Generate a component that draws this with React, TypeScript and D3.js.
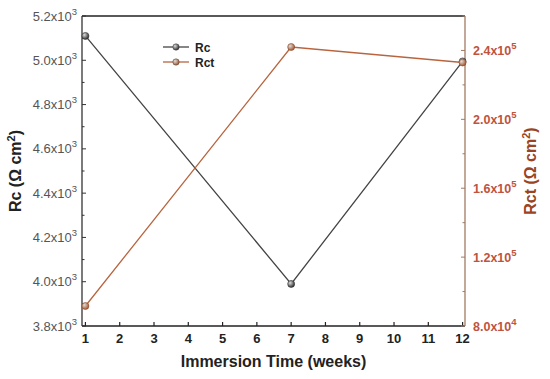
import React, { useRef, useEffect } from 'react';
import * as d3 from 'd3';

const weeks = [1, 7, 12];
const rcValues = [5110, 3990, 4995];
const rctValues = [91600, 242000, 233000];
const leftTicks = [3.8, 4.0, 4.2, 4.4, 4.6, 4.8, 5.0, 5.2];
const rightTicks = [8.0, 12, 16, 20, 24];
const xTicks = d3.range(1, 13);

const App: React.FC = () => {
  const svgRef = useRef<SVGSVGElement | null>(null);
  const width = 550;
  const height = 379;

  useEffect(() => {
    if (!svgRef.current) return;
    const svg = d3.select(svgRef.current);
    svg.selectAll('*').remove();

    const margin = { top: 16, right: 85, bottom: 53, left: 82 };
    const innerW = width - margin.left - margin.right;
    const innerH = height - margin.top - margin.bottom;

    const colors = {
      rc: '#444444',
      rct: '#b8643e',
      rightAxis: '#a27a62',
      rightText: '#c0533e',
      rightTitle: '#9a4423',
      leftText: '#555',
    };
    const font = 'Arial, "Liberation Sans", sans-serif';

    const x = d3.scaleLinear().domain([0.9, 12.07]).range([0, innerW]);
    const yL = d3.scaleLinear().domain([3800, 5200]).range([innerH, 0]);
    const yR = d3.scaleLinear().domain([80000, 260000]).range([innerH, 0]);

    const defs = svg.append('defs');
    const mkGrad = (id: string, c: string) => {
      const gr = defs.append('radialGradient').attr('id', id)
        .attr('cx', '35%').attr('cy', '35%').attr('r', '65%');
      gr.append('stop').attr('offset', '0%').attr('stop-color', '#ddd');
      gr.append('stop').attr('offset', '100%').attr('stop-color', c);
    };
    mkGrad('gRc', '#333');
    mkGrad('gRct', '#a85a30');

    const g = svg.append('g').attr('transform', `translate(${margin.left},${margin.top})`);

    // frame: top border
    g.append('line').attr('x1', 0).attr('x2', innerW).attr('y1', 0).attr('y2', 0)
      .attr('stroke', '#222').attr('stroke-width', 1.3);

    // bottom axis
    g.append('line').attr('x1', 0).attr('x2', innerW).attr('y1', innerH).attr('y2', innerH)
      .attr('stroke', '#222').attr('stroke-width', 1.3);
    xTicks.forEach(t => {
      g.append('line').attr('x1', x(t)).attr('x2', x(t)).attr('y1', innerH).attr('y2', innerH - 4)
        .attr('stroke', '#222').attr('stroke-width', 1.2);
      g.append('text').attr('x', x(t)).attr('y', innerH + 17).attr('text-anchor', 'middle')
        .attr('font-family', font).attr('font-weight', 'bold').attr('font-size', 13)
        .attr('fill', '#222').text(String(t));
    });

    // left axis
    g.append('line').attr('x1', 0).attr('x2', 0).attr('y1', 0).attr('y2', innerH)
      .attr('stroke', '#333').attr('stroke-width', 1.3);
    d3.range(3800, 5201, 100).forEach(v => {
      const major = Math.round(v) % 200 === 0;
      g.append('line').attr('x1', 0).attr('x2', major ? 4 : 2.5).attr('y1', yL(v)).attr('y2', yL(v))
        .attr('stroke', '#333').attr('stroke-width', 1);
    });
    leftTicks.forEach(t => {
      const tx = g.append('text').attr('x', -5).attr('y', yL(t * 1000) + 4.5).attr('text-anchor', 'end')
        .attr('font-family', font).attr('font-size', 13).attr('fill', colors.leftText);
      tx.append('tspan').text(`${t.toFixed(1)}x10`);
      tx.append('tspan').attr('dy', -6).attr('font-size', 9.5).text('3');
    });

    // right axis
    g.append('line').attr('x1', innerW).attr('x2', innerW).attr('y1', 0).attr('y2', innerH)
      .attr('stroke', colors.rightAxis).attr('stroke-width', 1.3);
    d3.range(80000, 260001, 20000).forEach(v => {
      const major = Math.round(v / 20000) % 2 === 0;
      g.append('line').attr('x1', innerW).attr('x2', innerW - (major ? 4 : 2.5))
        .attr('y1', yR(v)).attr('y2', yR(v))
        .attr('stroke', colors.rightAxis).attr('stroke-width', 1);
    });
    rightTicks.forEach(t => {
      const val = t * 10000;
      const mant = t >= 10 ? (t / 10).toFixed(1) : t.toFixed(1);
      const exp = t >= 10 ? '5' : '4';
      const tx = g.append('text').attr('x', innerW + 8).attr('y', yR(val) + 4.5)
        .attr('font-family', font).attr('font-weight', 'bold').attr('font-size', 12.5)
        .attr('fill', colors.rightText);
      tx.append('tspan').text(`${mant}x10`);
      tx.append('tspan').attr('dy', -6).attr('font-size', 9.5).text(exp);
    });

    // axis titles
    const lt = svg.append('text')
      .attr('transform', `translate(21,${margin.top + innerH / 2}) rotate(-90)`)
      .attr('text-anchor', 'middle').attr('font-family', font).attr('font-weight', 'bold')
      .attr('font-size', 16).attr('fill', '#222');
    lt.append('tspan').text('Rc (Ω cm');
    lt.append('tspan').attr('dy', -6).attr('font-size', 11).text('2');
    lt.append('tspan').attr('dy', 6).text(')');

    const rt = svg.append('text')
      .attr('transform', `translate(536,${margin.top + innerH / 2}) rotate(-90)`)
      .attr('text-anchor', 'middle').attr('font-family', font).attr('font-weight', 'bold')
      .attr('font-size', 16).attr('fill', colors.rightTitle);
    rt.append('tspan').text('Rct (Ω cm');
    rt.append('tspan').attr('dy', -6).attr('font-size', 11).text('2');
    rt.append('tspan').attr('dy', 6).text(')');

    svg.append('text').attr('x', margin.left + innerW / 2).attr('y', 367)
      .attr('text-anchor', 'middle').attr('font-family', font).attr('font-weight', 'bold')
      .attr('font-size', 16).attr('fill', '#222').text('Immersion Time (weeks)');

    // series
    const lineL = d3.line<number>().x((_, i) => x(weeks[i])).y(d => yL(d));
    const lineR = d3.line<number>().x((_, i) => x(weeks[i])).y(d => yR(d));

    g.append('path').datum(rcValues).attr('d', lineL).attr('fill', 'none')
      .attr('stroke', colors.rc).attr('stroke-width', 1.3);
    g.append('path').datum(rctValues).attr('d', lineR).attr('fill', 'none')
      .attr('stroke', colors.rct).attr('stroke-width', 1.3);

    rcValues.forEach((v, i) => {
      g.append('circle').attr('cx', x(weeks[i])).attr('cy', yL(v)).attr('r', 3.5)
        .attr('fill', 'url(#gRc)').attr('stroke', '#333').attr('stroke-width', 0.6);
    });
    rctValues.forEach((v, i) => {
      g.append('circle').attr('cx', x(weeks[i])).attr('cy', yR(v)).attr('r', 3.5)
        .attr('fill', 'url(#gRct)').attr('stroke', '#8a4a2a').attr('stroke-width', 0.6);
    });

    // legend
    const legend = svg.append('g').attr('transform', 'translate(163,47)');
    [
      { label: 'Rc', color: colors.rc, grad: 'url(#gRc)' },
      { label: 'Rct', color: colors.rct, grad: 'url(#gRct)' },
    ].forEach((item, idx) => {
      const yOff = idx * 15;
      legend.append('line').attr('x1', 0).attr('x2', 26).attr('y1', yOff).attr('y2', yOff)
        .attr('stroke', item.color).attr('stroke-width', 1.3);
      legend.append('circle').attr('cx', 13).attr('cy', yOff).attr('r', 3.2)
        .attr('fill', item.grad).attr('stroke', '#444').attr('stroke-width', 0.5);
      legend.append('text').attr('x', 32).attr('y', yOff + 4.5)
        .attr('font-family', font).attr('font-weight', 'bold').attr('font-size', 12)
        .attr('fill', '#222').text(item.label);
    });
  }, []);

  return (
    <svg ref={svgRef} width={width} height={height}
      style={{ position: 'absolute', left: 0, top: 0, background: '#fff' }} />
  );
};

export default App;
